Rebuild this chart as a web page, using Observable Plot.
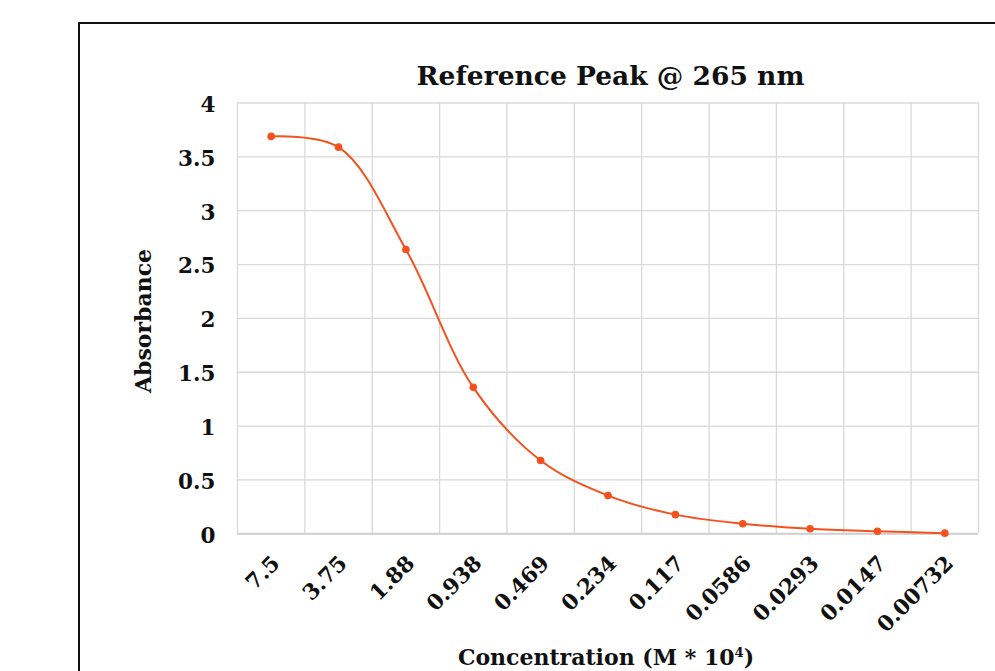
<!DOCTYPE html>
<html>
<head>
<meta charset="utf-8">
<script src="https://cdn.jsdelivr.net/npm/d3@7"></script>
<script src="https://cdn.jsdelivr.net/npm/@observablehq/plot@0.6"></script>
<style>
  html, body { margin: 0; padding: 0; background: #fff; }
  body { width: 995px; height: 671px; overflow: hidden; position: relative; font-family: "DejaVu Serif", Georgia, serif; }
  #frame { position: absolute; left: 78px; top: 22px; width: 1000px; height: 720px; border: 2px solid #111; box-sizing: border-box; }
  #chart { position: absolute; left: 0; top: 0; }
  .t { position: absolute; font-weight: bold; color: #111; white-space: nowrap; }
  #title { left: 0; width: 1221px; text-align: center; top: 60px; font-size: 26.5px; }
  #xlabel { left: 0; width: 1212px; text-align: center; top: 644px; font-size: 22px; }
  #ylabel { left: 143px; top: 321px; font-size: 22px; transform: translate(-50%, -50%) rotate(-90deg); }
</style>
</head>
<body>
<div id="frame"></div>
<div id="chart"></div>
<div class="t" id="title">Reference Peak @ 265 nm</div>
<div class="t" id="ylabel">Absorbance</div>
<div class="t" id="xlabel">Concentration (M * 10<sup style="font-size:0.6em">4</sup>)</div>
<script>
const concentrations = ["7.5", "3.75", "1.88", "0.938", "0.469", "0.234", "0.117", "0.0586", "0.0293", "0.0147", "0.00732"];
const absorbance = [3.69, 3.59, 2.64, 1.36, 0.68, 0.355, 0.178, 0.094, 0.047, 0.024, 0.006];
const yTicks = [0, 0.5, 1, 1.5, 2, 2.5, 3, 3.5, 4];

const data = concentrations.map((c, i) => ({i, c, a: absorbance[i]}));
const edges = d3.range(concentrations.length + 1).map(k => k - 0.5);

const color = "#F4511E";
const grid = "#d9d9d9";

const plot = Plot.plot({
  width: 995,
  height: 671,
  marginLeft: 237,
  marginRight: 17,
  marginTop: 102.5,
  marginBottom: 137.7,
  style: { fontFamily: "'DejaVu Serif', Georgia, serif", background: "transparent", color: "#111" },
  x: { type: "linear", domain: [-0.5, concentrations.length - 0.5] },
  y: { domain: [0, 4] },
  marks: [
    Plot.ruleY(yTicks, { stroke: grid, strokeWidth: 1.3 }),
    Plot.ruleX(edges, { stroke: grid, strokeWidth: 1.3 }),
    Plot.ruleY([0], { stroke: "#d0d0d0", strokeWidth: 2 }),
    Plot.axisY({ ticks: yTicks, tickSize: 0, tickPadding: 22, dy: 2, tickFormat: d => `${d}`, fontSize: 21.5, fontWeight: "bold", label: null }),
    Plot.axisX({ ticks: d3.range(concentrations.length), tickSize: 0, tickPadding: 26, dx: 5, tickRotate: -45, tickFormat: i => concentrations[i], fontSize: 21.5, fontWeight: "bold", label: null }),
    Plot.line(data, { x: "i", y: "a", stroke: color, strokeWidth: 2, curve: "catmull-rom" }),
    Plot.dot(data, { x: "i", y: "a", fill: color, r: 3.8 })
  ]
});
document.getElementById("chart").appendChild(plot);
</script>
</body>
</html>
